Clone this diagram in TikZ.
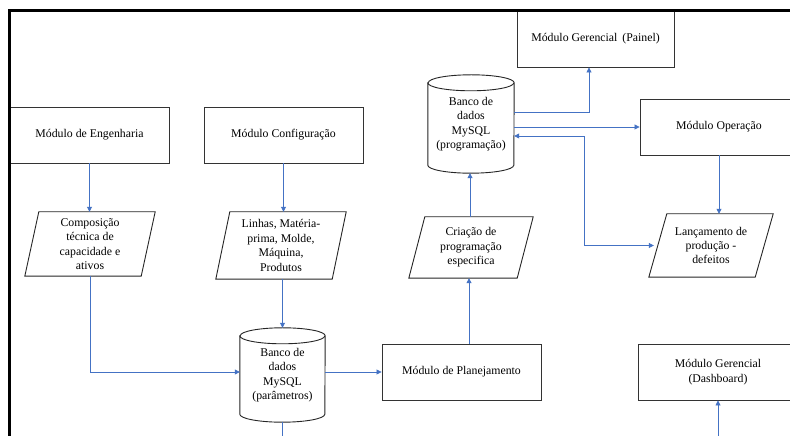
\documentclass[tikz,border=0pt]{standalone}
\usepackage{fontspec}
\setmainfont{Liberation Serif}
\usetikzlibrary{arrows.meta,calc}
\definecolor{arrblue}{RGB}{68,114,196}
\tikzset{
  txt/.style={inner sep=0pt, align=center, text=black, font=\fontsize{11.8}{14.4}\selectfont},
  box/.style={txt, draw=black!80, line width=0.9pt, minimum width=159pt, minimum height=56pt},
  boxline/.style={draw=black!85, line width=0.9pt},
  conn/.style={draw=arrblue, line width=0.8pt},
  arr/.style={conn, -{Triangle[length=5pt,width=5pt]}},
  dbl/.style={conn, {Triangle[length=5pt,width=5pt]}-{Triangle[length=5pt,width=5pt]}}
}
\newcommand\drawpara[2]{%
  \draw[boxline] ([xshift=#2]#1.north west) -- ([xshift=#2]#1.north east) -- ([xshift=-#2]#1.south east) -- ([xshift=-#2]#1.south west) -- cycle;}
\newcommand\drawcyl[2]{%
  \draw[boxline] ([yshift=-8pt]#1.north west) -- ([yshift=8pt]#1.south west)
    arc[start angle=180,end angle=360,x radius=#2,y radius=8pt]
    -- ([yshift=-8pt]#1.north east)
    arc[start angle=0,end angle=180,x radius=#2,y radius=8pt] -- cycle;
  \draw[boxline] ([yshift=-8pt]#1.north west) arc[start angle=180,end angle=360,x radius=#2,y radius=8pt];}
\begin{document}
\begin{tikzpicture}[x=1pt,y=1pt]
\useasboundingbox (0,0) rectangle (790,436);
\fill[white] (0,0) rectangle (790,436);

% modules
\node[box] (eng) at (89.5,301) {Módulo de Engenharia};
\node[box] (conf) at (283.5,301) {Módulo Configuração};
\node[box] (plan) at (461.5,64) {Módulo de Planejamento};
\node[box, minimum width=157pt] (pai) at (595.5,397) {Módulo Gerencial \,(Painel)};
\node[box, minimum width=158pt] (ope) at (719,309) {Módulo Operação};
\node[box, minimum width=160pt] (das) at (718,64) {Módulo Gerencial\\(Dashboard)};

% parallelograms
\node[txt, minimum width=116pt, minimum height=64pt] (comp) at (90,192) {Composição\\técnica de\\capacidade e\\ativos};
\drawpara{comp}{7pt}
\node[txt, minimum width=116pt, minimum height=67pt] (lin) at (281,190.5) {Linhas, Matéria-\\prima, Molde,\\Máquina,\\Produtos};
\drawpara{lin}{7pt}
\node[txt, minimum width=108pt, minimum height=61pt] (cri) at (471,188.5) {Criação de\\programação\\especifica};
\drawpara{cri}{8pt}
\node[txt, minimum width=106pt, minimum height=63pt] (lan) at (711,190.5) {Lançamento de\\produção -\\defeitos};
\drawpara{lan}{9pt}

% databases
\node[txt, minimum width=85pt, minimum height=94pt] (dbp) at (282.5,61) {Banco de\\dados\\MySQL\\(parâmetros)};
\drawcyl{dbp}{42.5pt}
\node[txt, minimum width=86pt, minimum height=98pt] (dbg) at (471,312) {Banco de\\dados\\MySQL\\(programação)};
\drawcyl{dbg}{43pt}

% connectors
\coordinate (dbpout) at (282.5,0);
\coordinate (dasin) at (718,0);
\coordinate (kx) at (584,0);
\draw[arr] (eng.south) -- (eng.south |- comp.north);
\draw[arr] (conf.south) -- (conf.south |- lin.north);
\draw[arr] (dbp.north |- lin.south) -- (dbp.north);
\draw[arr] (comp.south) |- ([yshift=3pt]dbp.west);
\draw[arr] ([yshift=3pt]dbp.east) -- (plan.west);
\draw[conn] (dbp.south) -- (dbpout);
\draw[arr] ([xshift=-2pt]cri.south |- plan.north) -- ([xshift=-2pt]cri.south);
\draw[arr] ([xshift=-1pt]cri.north) -- ([xshift=-1pt]dbg.south);
\draw[arr] ([yshift=12pt]dbg.east) -| ([xshift=-6.5pt]pai.south);
\draw[arr] (dbg.east |- ope.west) -- (ope.west);
\draw[arr] (ope.south) -- (ope.south |- lan.north);
\draw[dbl] ([yshift=-12pt]dbg.east) -| (kx |- lan.west) -- ([xshift=-4pt]lan.west);
\draw[arr] (dasin) -- (das.south);

% frame
\draw[line width=3pt] (9,0) -- (9,425.5) -- (791,425.5);
\end{tikzpicture}
\end{document}
